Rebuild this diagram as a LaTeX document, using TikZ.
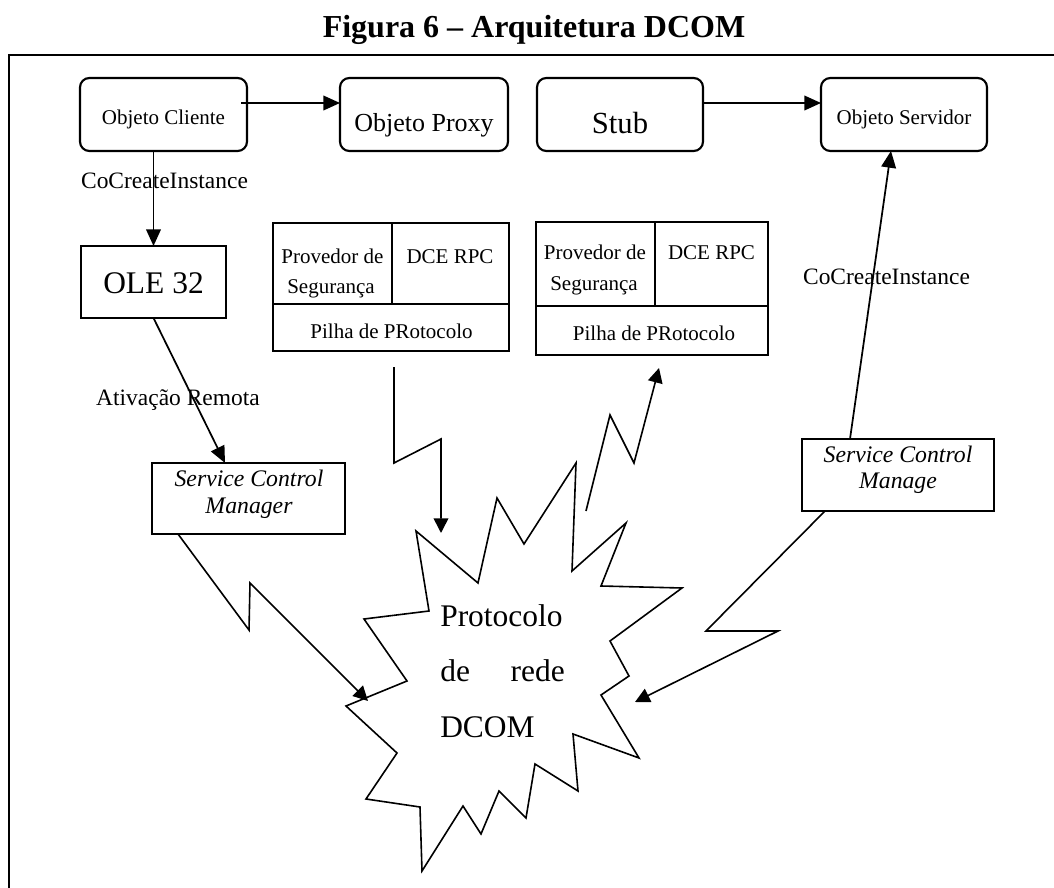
\documentclass[tikz,border=0pt]{standalone}
\usepackage{fontspec}
\setmainfont{Liberation Serif}
\usetikzlibrary{arrows.meta,calc}

\begin{document}
\begin{tikzpicture}[x=0.75pt,y=-0.75pt,
  rbox/.style={draw, line width=1.6pt, rounded corners=7pt, inner sep=0pt, outer sep=0pt},
  pbox/.style={draw, line width=1.5pt, inner sep=0pt, outer sep=0pt},
  cell/.style={draw, line width=2pt, inner sep=0pt, outer sep=0pt},
  txt/.style={inner sep=0pt, anchor=base},
  arr/.style={line width=1.3pt, -{Triangle[length=12.5pt,width=11pt]}},
  bolt/.style={line width=1.2pt, line join=miter, -{Triangle[length=11pt,width=11pt]}},
  fsmall/.style={font=\fontsize{15.75}{19}\selectfont},
  flabel/.style={font=\fontsize{17.6}{21}\selectfont},
  fscm/.style={font=\itshape\fontsize{17.8}{21}\selectfont},
  fbig/.style={font=\fontsize{23.6}{28}\selectfont}
]
\useasboundingbox (0,0) rectangle (1054,888);

% caption
\node[txt, font=\bfseries\fontsize{24}{28}\selectfont] (title) at (534,38) {Figura 6 – Arquitetura DCOM};

% frame (open to the right and bottom)
\draw[line width=1.5pt] (1054,55) -- (9,55) -- (9,888);

% top row of objects
\node[rbox, minimum width=167*.75pt, minimum height=73*.75pt] (cli)   at (163.5,114.5) {};
\node[rbox, minimum width=168*.75pt, minimum height=73*.75pt] (proxy) at (424,114.5) {};
\node[rbox, minimum width=166*.75pt, minimum height=73*.75pt] (stub)  at (620,114.5) {};
\node[rbox, minimum width=166*.75pt, minimum height=73*.75pt] (serv)  at (904,114.5) {};
\node[txt, fsmall] (tcli) at (163.5,125) {Objeto Cliente};
\node[txt, font=\fontsize{19.5}{23}\selectfont] (tproxy) at (424,132) {Objeto Proxy};
\node[txt, font=\fontsize{23}{27}\selectfont] (tstub) at (620,134) {Stub};
\node[txt, fsmall] (tserv) at (904,125) {Objeto Servidor};

% OLE 32
\node[pbox, minimum width=145*.75pt, minimum height=72*.75pt] (ole) at (153.5,282) {};
\node[txt, fbig] (tole) at (153.5,293) {OLE 32};

% service control managers
\node[pbox, minimum width=193*.75pt, minimum height=71*.75pt] (scmL) at (248.5,498.5) {};
\node[txt, fscm] (tscmL1) at (249,486) {Service Control};
\node[txt, fscm] (tscmL2) at (249,513) {Manager};
\node[pbox, minimum width=192*.75pt, minimum height=72*.75pt] (scmR) at (898,475) {};
\node[txt, fscm] (tscmR1) at (898,462) {Service Control};
\node[txt, fscm] (tscmR2) at (898,488) {Manage};

% protocol stacks
\node[cell, minimum width=119*.75pt, minimum height=81*.75pt] (prov1) at (332.5,263.5) {};
\node[cell, minimum width=117*.75pt, minimum height=81*.75pt] (dce1)  at (450.5,263.5) {};
\node[cell, minimum width=236*.75pt, minimum height=47*.75pt] (pil1)  at (391,327.5) {};
\node[txt, fsmall] (tprov1a) at (332.5,264) {Provedor de};
\node[txt, fsmall] (tprov1b) at (331,294) {Segurança};
\node[txt, fsmall] (tdce1)   at (450,263) {DCE RPC};
\node[txt, fsmall] (tpil1)   at (391.5,338) {Pilha de PRotocolo};

\node[cell, minimum width=119*.75pt, minimum height=84*.75pt] (prov2) at (595.5,264) {};
\node[cell, minimum width=113*.75pt, minimum height=84*.75pt] (dce2)  at (711.5,264) {};
\node[cell, minimum width=232*.75pt, minimum height=49*.75pt] (pil2)  at (652,330.5) {};
\node[txt, fsmall] (tprov2a) at (595,260) {Provedor de};
\node[txt, fsmall] (tprov2b) at (594,291) {Segurança};
\node[txt, fsmall] (tdce2)   at (711.5,260) {DCE RPC};
\node[txt, fsmall] (tpil2)   at (654,340) {Pilha de PRotocolo};

% connector labels
\node[txt, flabel] (lcc1) at (164.5,189) {CoCreateInstance};
\node[txt, flabel] (lact) at (178,405) {Ativação Remota};
\node[txt, flabel] (lcc2) at (886.5,285) {CoCreateInstance};

% network protocol burst
\draw[line width=1.2pt, line join=miter]
  (416,531) -- (478,583) -- (497,498) -- (524,544) -- (576,463) -- (572,571)
  -- (626,523) -- (601,586) -- (682,588) -- (610,641) -- (629,676) -- (601,695)
  -- (639,758) -- (573,734) -- (578,791) -- (535,764) -- (526,818) -- (499,791)
  -- (481,834) -- (463,806) -- (422,871) -- (420,807) -- (366,799) -- (397,753)
  -- (346,706) -- (407,681) -- (364,619) -- (429,611) -- cycle;
\node[txt, anchor=base west, fbig] (tb1) at (440,626) {Protocolo};
\node[txt, anchor=base west, fbig] (tb2) at (440,681) {de};
\node[txt, anchor=base east, fbig] (tb3) at (565,681) {rede};
\node[txt, anchor=base west, fbig] (tb4) at (440,737) {DCOM};

% end points of the links into and out of the burst
\coordinate (hitW)  at (368,701);
\coordinate (hitN)  at (441,533);
\coordinate (hitE)  at (635,702);
\coordinate (outN)  at (586,511);
\coordinate (srcN)  at (394,367);

% object connectors
\draw[arr] ($(cli.north east)+(-6,25)$) -- ($(proxy.north west)+(0,25)$);
\draw[arr] ($(stub.north east)+(0,25)$) -- ($(serv.north west)+(0,25)$);
\draw[arr] (cli.south -| ole.north) -- (ole.north);
\draw[arr] (ole.south) -- ($(scmL.north west)+(73,0)$);
\draw[arr] ($(scmR.north west)+(48,0)$) -- ($(serv.south)+(-13,0)$);

% network links
\draw[bolt] ($(scmL.south west)+(26,0)$) -- (249,630) -- (250,583) -- (hitW);
\draw[bolt] (srcN) -- (394,463) -- (441,439) -- (hitN);
\draw[bolt] (outN) -- (610,415) -- (634,463) -- ($(pil2.south west)+(123,13)$);
\draw[bolt] ($(scmR.south west)+(23,0)$) -- (706,631) -- (778,631) -- (hitE);

\end{tikzpicture}
\end{document}
